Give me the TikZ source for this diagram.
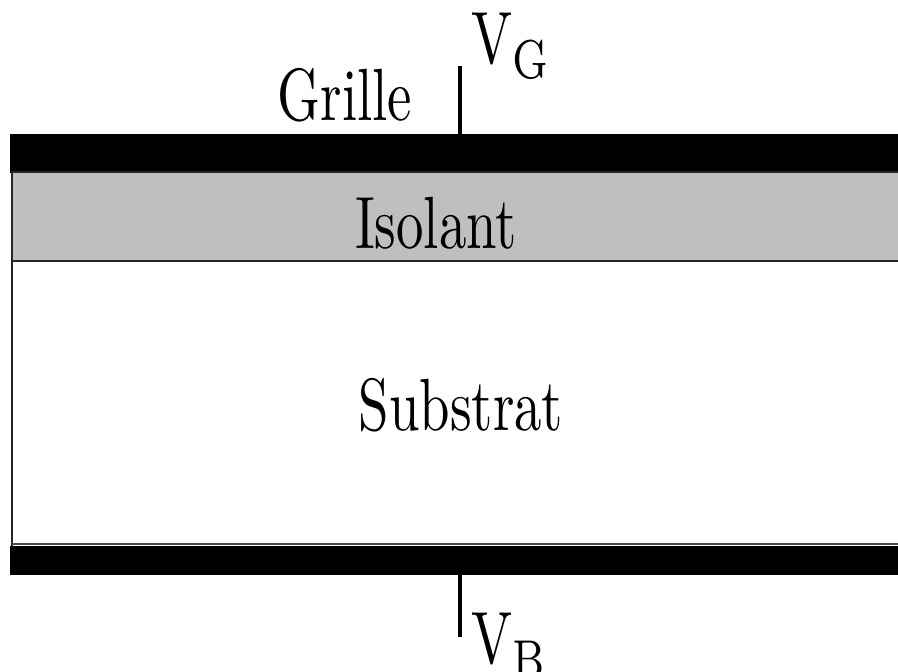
\documentclass[tikz,border=0pt]{standalone}
\newcommand{\bigtxt}[1]{\scalebox{5.48}[7.4]{#1}}
\begin{document}
\begin{tikzpicture}[x=1pt,y=-1pt,
  lbl/.style={inner sep=0pt,outer sep=0pt,font=\fontsize{10}{12}\selectfont},
  bar/.style={fill=black,draw=black,line width=1pt},
  edge/.style={draw=black!85,line width=2.6pt},
  lead/.style={draw=black,line width=3.6pt}]
\useasboundingbox (0,0) rectangle (898,672);
% layers
\fill[black!25] (12,172) rectangle (905,261);
\fill[white] (12,261) rectangle (905,546);
\path[bar] (10,134) rectangle (905,172);
\path[bar] (10,546) rectangle (905,574);
\draw[edge] (905,172) -- (12,172) -- (12,546);
\draw[edge] (12,261) -- (905,261);
\draw[draw=black!70,line width=2pt] (12,544) -- (905,544);
% nodes
\coordinate (gtop) at (460,66);
\coordinate (gbot) at (460,134);
\coordinate (btop) at (460,574);
\coordinate (bbot) at (460,637);
\draw[lead] (gtop) -- (gbot);
\draw[lead] (btop) -- (bbot);
\node[lbl,anchor=base] (grille) at (345,120) {\bigtxt{Grille}};
\node[lbl,anchor=base] (isolant) at (436,248) {\bigtxt{Isolant}};
\node[lbl,anchor=base] (substrat) at (461,430) {\bigtxt{Substrat}};
\node[lbl,anchor=base west] (vg) at (471,63) {\bigtxt{V\raisebox{-2.03pt}{\fontsize{7.4}{8}\selectfont G}}};
\node[lbl,anchor=base west] (vb) at (471,663) {\bigtxt{V\raisebox{-2.03pt}{\fontsize{7.4}{8}\selectfont B}}};
\end{tikzpicture}
\end{document}
